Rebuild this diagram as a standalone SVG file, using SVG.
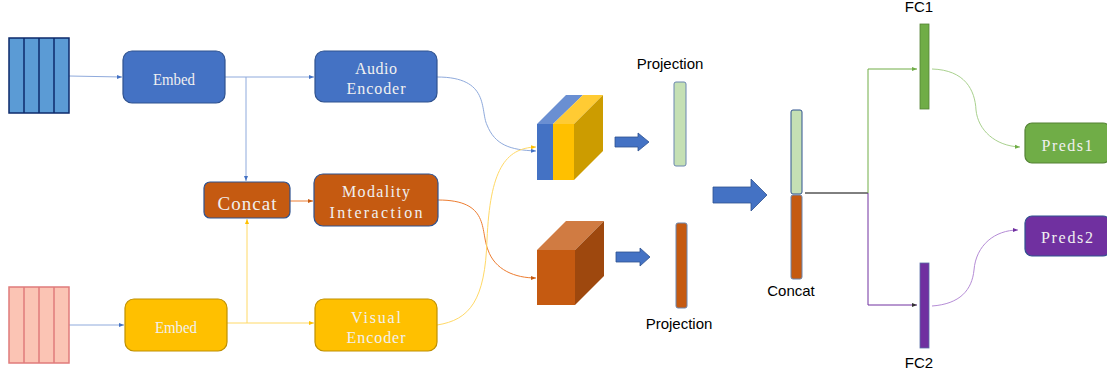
<svg xmlns="http://www.w3.org/2000/svg" width="1107" height="377" viewBox="0 0 1107 377">
<style>
.box{stroke-width:1.2}
.lbl{font-family:"Liberation Serif","DejaVu Serif",serif;font-size:16px;fill:#f0f0f0;text-anchor:middle}
.cap{font-family:"Liberation Sans","Open Sans",sans-serif;font-size:15px;fill:#000;text-anchor:middle}
.c{fill:none;stroke-width:1}
</style>
<defs>
<marker id="mb" markerWidth="6" markerHeight="6" refX="5" refY="3" orient="auto" markerUnits="userSpaceOnUse"><path d="M0,1 L5,3 L0,5 Z" fill="#4472c4"/></marker>
<marker id="my" markerWidth="6" markerHeight="6" refX="5" refY="3" orient="auto" markerUnits="userSpaceOnUse"><path d="M0,1 L5,3 L0,5 Z" fill="#ffc000"/></marker>
<marker id="mo" markerWidth="6" markerHeight="6" refX="5" refY="3" orient="auto" markerUnits="userSpaceOnUse"><path d="M0,1 L5,3 L0,5 Z" fill="#c55a11"/></marker>
<marker id="mg" markerWidth="6" markerHeight="6" refX="5" refY="3" orient="auto" markerUnits="userSpaceOnUse"><path d="M0,1 L5,3 L0,5 Z" fill="#70ad47"/></marker>
<marker id="mp" markerWidth="6" markerHeight="6" refX="5" refY="3" orient="auto" markerUnits="userSpaceOnUse"><path d="M0,1 L5,3 L0,5 Z" fill="#7030a0"/></marker>
<marker id="mk" markerWidth="6" markerHeight="6" refX="5" refY="3" orient="auto" markerUnits="userSpaceOnUse"><path d="M0,1 L5,3 L0,5 Z" fill="#333"/></marker>
</defs>
<rect width="1107" height="377" fill="#ffffff"/>

<g id="connectors">
<path class="c" d="M69,76 L122,77" stroke="#8faadc" marker-end="url(#mb)"/>
<path class="c" d="M225,77 L314,77" stroke="#8faadc" marker-end="url(#mb)"/>
<path class="c" d="M246,77 L246,181" stroke="#8faadc" marker-end="url(#mb)"/>
<path class="c" d="M290,201 L313,201" stroke="#ed7d31" marker-end="url(#mo)"/>
<path class="c" d="M69,325 L124,325" stroke="#8faadc" marker-end="url(#mb)"/>
<path class="c" d="M227,323 L314,323" stroke="#ffd966" marker-end="url(#my)"/>
<path class="c" d="M247,323 L247,219" stroke="#ffd966" marker-end="url(#my)"/>
<path class="c" d="M437,77 C490,77 480,110 487,125 C495,145 510,150 536,151" stroke="#8faadc" marker-end="url(#mb)"/>
<path class="c" d="M438,200 C490,200 480,230 488,250 C495,270 515,278 536,278" stroke="#ed7d31" marker-end="url(#mo)"/>
<path class="c" d="M437,325 C470,320 485,300 487,240 C490,170 505,148 536,147" stroke="#ffd966" marker-end="url(#my)"/>
<path class="c" d="M805,193 L868,193" stroke="#000"/>
<path class="c" d="M868,193 L868,69 L917,69" stroke="#70ad47" marker-end="url(#mg)"/>
<path class="c" d="M868,193 L868,305 L917,305" stroke="#7030a0" marker-end="url(#mk)"/>
<path class="c" d="M932,69 C965,70 975,90 976,110 C978,130 995,146 1020,147" stroke="#a9d18e" marker-end="url(#mg)"/>
<path class="c" d="M932,306 C960,304 972,290 974,270 C976,245 995,230 1018,230" stroke="#b58cd6" marker-end="url(#mp)"/>
</g>

<g id="audio-input">
<rect x="9" y="38" width="60" height="75" fill="#5b9bd5" stroke="#0d2a6b" stroke-width="1.5"/>
<line x1="24" y1="38" x2="24" y2="113" stroke="#0d2a6b" stroke-width="1.5"/>
<line x1="39" y1="38" x2="39" y2="113" stroke="#0d2a6b" stroke-width="1.5"/>
<line x1="54" y1="38" x2="54" y2="113" stroke="#0d2a6b" stroke-width="1.5"/>
</g>
<g id="visual-input">
<rect x="9" y="287" width="60" height="76" fill="#fbc4b4" stroke="#e07b7b" stroke-width="1.5"/>
<line x1="24" y1="287" x2="24" y2="363" stroke="#e07b7b" stroke-width="1.5"/>
<line x1="39" y1="287" x2="39" y2="363" stroke="#e07b7b" stroke-width="1.5"/>
<line x1="54" y1="287" x2="54" y2="363" stroke="#e07b7b" stroke-width="1.5"/>
</g>

<g id="embed-audio">
<rect class="box" x="123" y="51" width="102" height="52" rx="9" fill="#4472c4" stroke="#2f528f"/>
<text class="lbl" x="174" y="85" textLength="42" lengthAdjust="spacingAndGlyphs">Embed</text>
</g>
<g id="audio-encoder">
<rect class="box" x="315" y="51" width="122" height="51" rx="9" fill="#4472c4" stroke="#2f528f"/>
<text class="lbl" x="376" y="74" textLength="42" lengthAdjust="spacing">Audio</text>
<text class="lbl" x="376" y="94" textLength="59" lengthAdjust="spacing">Encoder</text>
</g>
<g id="concat-box">
<rect class="box" x="204" y="182" width="86" height="36" rx="6" fill="#c55a11" stroke="#2f528f"/>
<text class="lbl" x="247" y="210" style="font-size:19px" textLength="59" lengthAdjust="spacing">Concat</text>
</g>
<g id="modality-interaction">
<rect class="box" x="314" y="174" width="124" height="52" rx="9" fill="#c55a11" stroke="#2f528f"/>
<text class="lbl" x="376" y="197" textLength="68" lengthAdjust="spacing">Modality</text>
<text class="lbl" x="376" y="218" textLength="93" lengthAdjust="spacing">Interaction</text>
</g>
<g id="embed-visual">
<rect class="box" x="125" y="299" width="102" height="52" rx="9" fill="#ffc000" stroke="#bf9000"/>
<text class="lbl" x="176" y="333" textLength="42" lengthAdjust="spacingAndGlyphs">Embed</text>
</g>
<g id="visual-encoder">
<rect class="box" x="315" y="299" width="122" height="52" rx="9" fill="#ffc000" stroke="#bf9000"/>
<text class="lbl" x="376" y="323" textLength="50" lengthAdjust="spacing">Visual</text>
<text class="lbl" x="376" y="343" textLength="59" lengthAdjust="spacing">Encoder</text>
</g>

<g id="cube-top">
<polygon points="537,124 553,124 583,95 566,95" fill="#6a8fd2"/>
<polygon points="553,124 574,124 603,95 583,95" fill="#ffcb33"/>
<polygon points="574,124 603,95 603,151 574,180" fill="#cc9c00"/>
<rect x="537" y="124" width="16" height="56" fill="#4472c4"/>
<rect x="553" y="124" width="21" height="56" fill="#ffc000"/>
</g>
<g id="cube-bottom">
<polygon points="537,250 575,250 604,221 566,221" fill="#d07b42"/>
<polygon points="575,250 604,221 604,276 575,305" fill="#9e480e"/>
<rect x="537" y="250" width="38" height="55" fill="#c55a11"/>
</g>

<g id="arrow-top">
<polygon points="615,137 638,137 638,133 649,142 638,151 638,147 615,147" fill="#4472c4" stroke="#2f528f" stroke-width="0.8"/>
</g>
<g id="arrow-bottom">
<polygon points="616,252 640,252 640,248 650,257 640,266 640,262 616,262" fill="#4472c4" stroke="#2f528f" stroke-width="0.8"/>
</g>

<g id="projection-top">
<text class="cap" x="670" y="69">Projection</text>
<rect x="674" y="82" width="12" height="84" rx="2" fill="#c5e0b4" stroke="#6a86b0" stroke-width="1"/>
</g>
<g id="projection-bottom">
<rect x="676" y="223" width="11" height="85" rx="2" fill="#c55a11" stroke="#6a86b0" stroke-width="1"/>
<text class="cap" x="679" y="329">Projection</text>
</g>

<g id="arrow-big">
<polygon points="713,187 751,187 751,179 767,195 751,211 751,203 713,203" fill="#4472c4" stroke="#2f528f" stroke-width="0.8"/>
</g>

<g id="concat-vector">
<rect x="791" y="110" width="11" height="84" rx="2" fill="#c5e0b4" stroke="#2f528f" stroke-width="1"/>
<rect x="791" y="195" width="11" height="84" rx="2" fill="#c55a11" stroke="#6a86b0" stroke-width="1"/>
<text class="cap" x="791" y="296">Concat</text>
</g>

<g id="fc1">
<text class="cap" x="919" y="12">FC1</text>
<rect x="920" y="24" width="9" height="85" fill="#70ad47" stroke="#548235" stroke-width="0.8"/>
</g>
<g id="fc2">
<rect x="920" y="263" width="9" height="85" fill="#7030a0" stroke="#5a6fa8" stroke-width="0.8"/>
<text class="cap" x="919" y="368">FC2</text>
</g>

<g id="preds1">
<rect class="box" x="1025" y="123" width="85" height="40" rx="7" fill="#70ad47" stroke="#548235"/>
<text class="lbl" x="1067" y="151" textLength="51" lengthAdjust="spacing">Preds1</text>
</g>
<g id="preds2">
<rect class="box" x="1025" y="216" width="85" height="40" rx="7" fill="#7030a0" stroke="#2f528f"/>
<text class="lbl" x="1067" y="243" textLength="52" lengthAdjust="spacing">Preds2</text>
</g>
</svg>
